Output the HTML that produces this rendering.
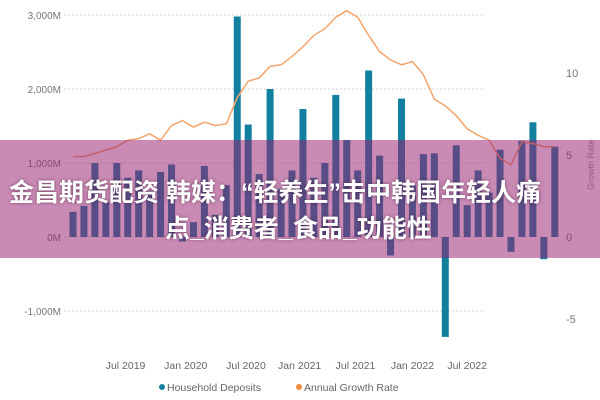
<!DOCTYPE html>
<html><head><meta charset="utf-8"><style>
html,body{margin:0;padding:0;background:#fff;width:600px;height:400px;overflow:hidden}
svg{display:block;font-family:"Liberation Sans",sans-serif}
.band{position:absolute;left:0;top:140px;width:600px;height:118px;background:rgba(152,31,111,0.52)}
.ttl{position:absolute;left:0;color:#fff;font:bold 25px "Liberation Sans","Noto Sans CJK SC",sans-serif;text-shadow:0 0 3px rgba(60,20,50,.6);white-space:nowrap}
</style></head><body>
<div style="position:relative;width:600px;height:400px">
<svg id="chart" width="600" height="400"></svg>
<div class="band"></div>
<div class="ttl" style="top:173px;left:9px">金昌期货配资 韩媒：“轻养生”击中韩国年轻人痛</div>
<div class="ttl" style="top:209px;left:165px">点_消费者_食品_功能性</div>
</div>
<script>
const deposits=[340,420,1000,470,1000,800,900,620,880,980,-60,200,960,300,700,2980,1520,850,2000,650,900,1730,800,1000,1920,1310,900,2250,1100,-250,1870,700,1120,1130,-1350,1240,430,900,600,1180,-200,1300,1550,-300,1220];
const growth=[4.9,4.9,5.1,5.3,5.5,5.9,6.0,6.3,5.9,6.8,7.1,6.7,7.0,6.8,6.9,8.5,9.5,9.7,10.4,10.5,11.0,11.6,12.3,12.7,13.4,13.8,13.4,12.3,11.3,10.8,10.5,10.7,9.9,8.4,8.0,7.4,6.6,6.2,5.9,4.8,4.4,5.8,5.7,5.5,5.5];
const leftTicks=[3000,2000,1000,0,-1000];
const leftTickLabels=["3,000M","2,000M","1,000M","0M","-1,000M"];
const rightTicks=[10,5,0,-5];
const xTickPos=[4.8,10.3,15.8,20.7,25.8,31,36];
const xTickLabels=["Jul 2019","Jan 2020","Jul 2020","Jan 2021","Jul 2021","Jan 2022","Jul 2022"];
const NS="http://www.w3.org/2000/svg";
const svg=document.getElementById('chart');
const xs=i=>73+10.95*i;
const yL=v=>237-v*0.074;
const yR=v=>237-v*16.4;
function mk(t,a,p){const e=document.createElementNS(NS,t);for(const k in a)e.setAttribute(k,a[k]);(p||svg).appendChild(e);return e;}
leftTicks.forEach((v,k)=>{
 const g=mk('line',{x1:64,x2:485,y1:yL(v),y2:yL(v),stroke:'#d4d4d4','stroke-dasharray':'2,2'});
 
 
 const t=mk('text',{x:61,y:yL(v)+4,'text-anchor':'end','font-size':10,fill:'#777'});
 t.textContent=leftTickLabels[k];
 
 
});
rightTicks.forEach(v=>{
 const t=mk('text',{x:566,y:yR(v)+4,'font-size':11,fill:'#777'});
 t.textContent=String(v);
 
 
});
const rt=mk('text',{x:0,y:0,'font-size':9,fill:'#999',transform:'translate(594,190) rotate(-90)'});
rt.textContent='Growth Rate';


deposits.forEach((v,i)=>{
 const y0=yL(0),y1=yL(v);
 const r=mk('rect',{x:xs(i)-3.5,y:Math.min(y0,y1),width:7,height:Math.abs(y1-y0),fill:'#14809f'});
 
 
});
const pl=mk('polyline',{points:growth.map((v,i)=>xs(i)+','+yR(v)).join(' '),fill:'none',stroke:'#f4a46c','stroke-width':1.5});


xTickPos.forEach((p,k)=>{
 const t=mk('text',{x:xs(p),y:369,'text-anchor':'middle','font-size':10.5,fill:'#666'});
 t.textContent=xTickLabels[k];
 
 
});
const lg=mk('g',{});


const d1=mk('circle',{cx:162,cy:387,r:3,fill:'#14809f'},lg);


const l1=mk('text',{x:167,y:391,'font-size':10.5,fill:'#666'},lg);
l1.textContent='Household Deposits';


const d2=mk('circle',{cx:299,cy:387,r:3,fill:'#f08a3c'},lg);


const l2=mk('text',{x:304,y:391,'font-size':10.5,fill:'#666'},lg);
l2.textContent='Annual Growth Rate';


</script>
</body></html>
